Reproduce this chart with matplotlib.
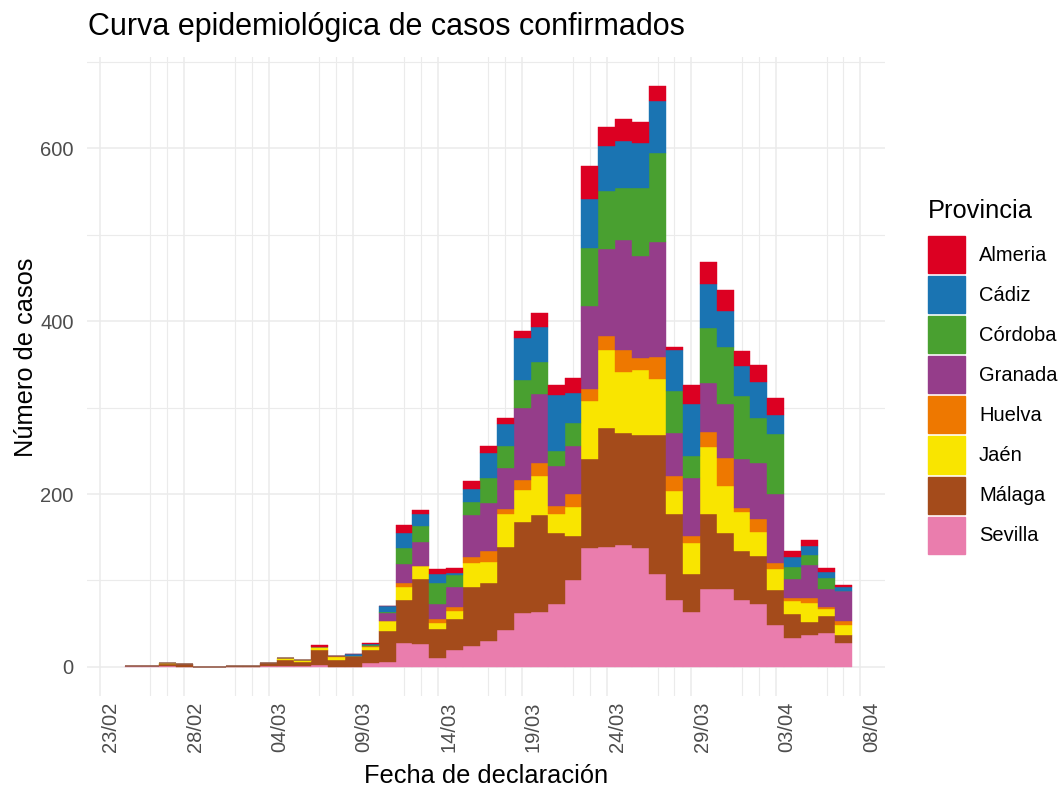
import matplotlib
matplotlib.use("Agg")
import matplotlib.pyplot as plt
import matplotlib.dates as mdates
from matplotlib.patches import Patch
from matplotlib.transforms import ScaledTranslation
import numpy as np
import pandas as pd

plt.rcParams["font.family"] = ["Liberation Sans", "DejaVu Sans"]

# daily confirmed cases, 25/02/2020 .. 07/04/2020
dates = pd.date_range("2020-02-25", "2020-04-07", freq="D")

sevilla = [1, 1, 1, 0, 0, 0, 0, 0, 1, 1, 1, 2, 0, 0, 5, 6, 28, 26, 10, 20, 24, 30,
           43, 62, 63, 73, 101, 138, 139, 141, 137, 107, 77, 63, 90, 90, 77, 73, 48,
           34, 37, 39, 28]
malaga = [0, 0, 2, 3, 0, 0, 1, 1, 3, 7, 5, 18, 8, 13, 15, 35, 49, 76, 34, 35, 69, 67,
          96, 106, 113, 82, 51, 102, 137, 129, 131, 161, 100, 45, 87, 65, 57, 55, 41,
          27, 15, 20, 9]
jaen = [0, 0, 2, 0, 0, 0, 0, 0, 0, 2, 2, 3, 3, 0, 3, 12, 15, 15, 7, 10, 27, 24,
        38, 37, 45, 22, 33, 68, 90, 71, 75, 65, 26, 35, 77, 54, 45, 28, 24,
        15, 22, 8, 11]
huelva = [0, 0, 0, 0, 0, 0, 0, 0, 0, 0, 0, 0, 2, 0, 1, 0, 5, 0, 4, 4, 7, 13,
          6, 11, 15, 9, 15, 13, 17, 25, 14, 25, 18, 9, 18, 33, 5, 15, 7,
          4, 6, 2, 5]
granada = [0, 0, 0, 0, 0, 0, 0, 0, 0, 0, 0, 0, 0, 0, 0, 9, 22, 28, 18, 24, 49, 56,
           47, 83, 80, 46, 56, 96, 100, 128, 118, 133, 49, 66, 56, 62, 56, 65, 80,
           22, 38, 21, 35]
cordoba = [0, 0, 0, 0, 0, 0, 0, 0, 0, 0, 0, 0, 0, 0, 1, 2, 18, 18, 24, 13, 15, 29,
           26, 33, 37, 18, 26, 68, 67, 60, 79, 104, 49, 26, 64, 66, 73, 52, 69,
           14, 11, 13, 0]
cadiz = [0, 0, 0, 0, 0, 0, 0, 0, 0, 0, 0, 0, 0, 2, 1, 7, 18, 14, 11, 3, 15, 28,
         25, 49, 40, 64, 35, 56, 53, 54, 52, 60, 47, 60, 51, 42, 35, 42, 22,
         11, 11, 7, 5]
almeria = [0, 0, 0, 0, 0, 0, 0, 0, 0, 0, 0, 2, 0, 0, 2, 0, 9, 4, 5, 6, 9, 9,
           7, 8, 16, 12, 17, 38, 22, 26, 24, 17, 4, 22, 25, 24, 17, 19, 20,
           7, 7, 5, 2]

provinces = ["Almeria", "Cádiz", "Córdoba", "Granada", "Huelva", "Jaén", "Málaga", "Sevilla"]
colors = ["#DC0022", "#1A74B2", "#49A030", "#953D8A", "#EE7800", "#F9E500", "#A44B1B", "#EA7DAD"]
series = [almeria, cadiz, cordoba, granada, huelva, jaen, malaga, sevilla]

tick_dates = pd.date_range("2020-02-23", "2020-04-08", freq="5D")

fig = plt.figure(figsize=(10.61, 7.9), dpi=100)
ax = fig.add_axes([0.082, 0.119, 0.752, 0.809])

x = mdates.date2num(dates)
bottom = np.zeros(len(dates))
# ggplot stacks the last factor level at the bottom
for name, col, vals in reversed(list(zip(provinces, colors, series))):
    vals = np.array(vals, dtype=float)
    ax.bar(x, vals, width=1.0, bottom=bottom, color=col, edgecolor=col,
           linewidth=0.3, zorder=2)
    bottom += vals

# axes / grid, theme_minimal-ish
x0 = mdates.date2num(pd.Timestamp("2020-02-23"))
ax.set_xlim(x0 - 0.75, x0 + 46.45)
ax.set_ylim(-33.6, 705.6)
ax.set_xticks(mdates.date2num(tick_dates))
minor = []
for t in mdates.date2num(tick_dates)[1:]:
    minor += [t - 2, t - 1]
ax.set_xticks(minor, minor=True)
ax.xaxis.set_major_formatter(mdates.DateFormatter("%d/%m"))
ax.set_yticks([0, 200, 400, 600])
ax.set_yticks([100, 300, 500, 700], minor=True)

ax.grid(True, which="major", color="#EBEBEB", linewidth=1.1, zorder=0)
ax.grid(True, which="minor", color="#EBEBEB", linewidth=0.8, zorder=0)
ax.set_axisbelow(True)
for s in ax.spines.values():
    s.set_visible(False)
ax.tick_params(which="both", length=0)
ax.tick_params(axis="y", labelsize=14.5, labelcolor="#4D4D4D", pad=9.5)
ax.tick_params(axis="x", labelsize=14.5, labelcolor="#4D4D4D", pad=4)
offset = ScaledTranslation(1 / 72, 0, fig.dpi_scale_trans)
for lab in ax.get_xticklabels():
    lab.set_rotation(90)
    lab.set_ha("left")
    lab.set_transform(lab.get_transform() + offset)

ax.set_xlabel("Fecha de declaración", fontsize=18.3, labelpad=9)
ax.set_ylabel("Número de casos", fontsize=18.3)
ax.yaxis.set_label_coords(-0.062, 0.53)

fig.text(88 / 1061, 1 - 35 / 790, "Curva epidemiológica de casos confirmados",
         fontsize=22, ha="left", va="baseline")

# legend: title drawn separately so the gap to the keys matches
fig.text(928 / 1061, 1 - 218 / 790, "Provincia", fontsize=18.3,
         ha="left", va="baseline")
handles = [Patch(facecolor=c, edgecolor=c) for c in colors]
leg = fig.legend(handles, provinces, loc="upper left",
                 bbox_to_anchor=(928 / 1061, 1 - 236 / 790), frameon=False,
                 fontsize=14.5, handlelength=1.84, handleheight=2.455,
                 labelspacing=0.15, handletextpad=0.7, borderpad=0,
                 borderaxespad=0)

fig.savefig("out.png", dpi=100)
